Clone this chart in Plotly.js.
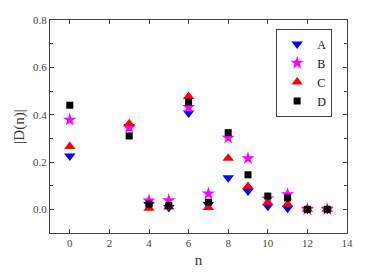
<!DOCTYPE html>
<html><head><meta charset="utf-8">
<script src="https://cdn.plot.ly/plotly-3.0.1.min.js"></script>
<style>html,body{margin:0;padding:0;background:#fff}#chart{width:382px;height:273px}</style>
</head><body><div id="chart"></div>
<script>
const n = [0, 3, 4, 5, 6, 7, 8, 9, 10, 11, 12, 13];
const seriesA = [0.225, 0.35, 0.02, 0.008, 0.407, 0.02, 0.133, 0.077, 0.013, 0.005, 0.0, 0.0];
const seriesB = [0.378, 0.345, 0.037, 0.038, 0.432, 0.066, 0.302, 0.215, 0.045, 0.063, 0.0, 0.0];
const seriesC = [0.265, 0.362, 0.005, 0.01, 0.477, 0.008, 0.216, 0.096, 0.028, 0.021, 0.0, 0.0];
const seriesD = [0.44, 0.31, 0.022, 0.016, 0.453, 0.03, 0.324, 0.146, 0.056, 0.048, 0.0, 0.0];
const names = ['A', 'B', 'C', 'D'];

const font = {family: 'Liberation Serif, Times New Roman, serif', color: '#333'};
const mk = (y, name, symbol, color, size) => ({
  x: n, y: y, name: name, type: 'scatter', mode: 'markers',
  marker: {symbol: symbol, color: color, size: size}
});
const data = [
  mk(seriesA, names[0], 'triangle-down', '#0000ff', 10),
  mk(seriesB, names[1], 'star', '#ff00ff', 10),
  mk(seriesC, names[2], 'triangle-up', '#ff0000', 10),
  mk(seriesD, names[3], 'square', '#000000', 7)
];
const axisCommon = {
  showline: true, linecolor: '#444', linewidth: 1, mirror: 'ticks',
  ticks: 'inside', ticklen: 4, tickcolor: '#444', showgrid: false, zeroline: false,
  tickfont: {family: font.family, size: 11, color: '#444'}
};
const layout = {
  width: 382, height: 273,
  margin: {l: 50, r: 35, t: 20, b: 40},
  paper_bgcolor: '#fff', plot_bgcolor: '#fff',
  font: font,
  showlegend: true,
  xaxis: Object.assign({}, axisCommon, {
    range: [-1, 14], dtick: 2, tick0: 0,
    title: {text: 'n', font: {family: font.family, size: 15, color: '#333'}, standoff: 6}
  }),
  yaxis: Object.assign({}, axisCommon, {
    range: [-0.1, 0.8], dtick: 0.2, tick0: 0, tickformat: '.1f',
    minor: {dtick: 0.1, ticklen: 3, tickcolor: '#444', ticks: 'inside'},
    title: {text: '|D(n)|', font: {family: font.family, size: 15, color: '#333'}, standoff: 4}
  }),
  legend: {
    x: 0.95, y: 0.96, xanchor: 'right', yanchor: 'top',
    bordercolor: '#444', borderwidth: 1, bgcolor: '#fff',
    font: {family: font.family, size: 12, color: '#111'},
    itemwidth: 30, tracegroupgap: 0
  }
};
Plotly.newPlot('chart', data, layout, {displayModeBar: false, staticPlot: true});
</script></body></html>
